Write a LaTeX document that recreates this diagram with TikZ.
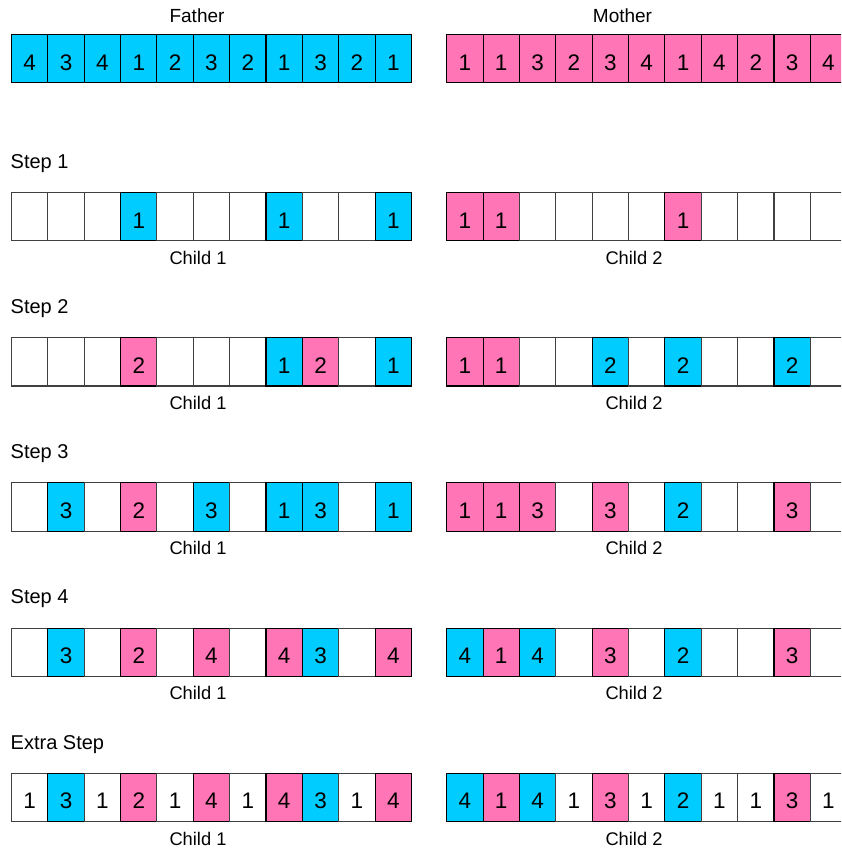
\documentclass[tikz,border=0pt]{standalone}
\usepackage{fontspec}
\setmainfont{Liberation Sans}

\definecolor{fathercol}{RGB}{0,204,255}
\definecolor{mothercol}{RGB}{255,117,181}

\tikzset{
  cell/.style={rectangle,draw=black,line width=1.1pt,minimum width=36.36pt,minimum height=48.3pt,
    inner sep=0pt,outer sep=0pt,font=\fontsize{22.5}{22.5}\selectfont,text height=23pt,text depth=0pt},
  fcell/.style={cell,fill=fathercol},
  mcell/.style={cell,fill=mothercol},
  ecell/.style={cell,draw=black!75,fill=white},
  wcell/.style={cell,draw=black!75,fill=white},
  lbl/.style={font=\fontsize{18.3}{18.3}\selectfont,anchor=base,inner sep=0pt},
  parentlbl/.style={lbl,font=\fontsize{19}{19}\selectfont},
  steplbl/.style={lbl,font=\fontsize{20}{20}\selectfont,anchor=base west},
}

% one row of 11 genes: name, left x, top y, list of style/value
\newcommand\cellrow[4]{%
  \foreach \st/\val [count=\i] in {#4}
    \node[\st,anchor=north west] (#1-\i) at ({#2+(\i-1)*36.36},#3) {\val};
}

\begin{document}
\begin{tikzpicture}[x=1pt,y=-1pt]
\useasboundingbox (0,0) rectangle (841,850);
\clip (0,0) rectangle (841,850);
% ---------- parents ----------
\node[parentlbl] (father) at (197,22.7) {Father};
\node[parentlbl] (mother) at (622.5,22.7) {Mother};
\cellrow{f}{11.5}{34.5}{fcell/4,fcell/3,fcell/4,fcell/1,fcell/2,fcell/3,fcell/2,fcell/1,fcell/3,fcell/2,fcell/1}
\cellrow{m}{446.7}{34.5}{mcell/1,mcell/1,mcell/3,mcell/2,mcell/3,mcell/4,mcell/1,mcell/4,mcell/2,mcell/3,mcell/4}
% ---------- step and child labels ----------
\foreach \t [count=\k from 0] in {Step 1,Step 2,Step 3,Step 4,Extra Step} {
  \node[steplbl] (step\k) at (10.5,{168.3+145.2*\k}) {\t};
  \node[lbl] (childa\k) at (198,{264.3+145.2*\k}) {Child 1};
  \node[lbl] (childb\k) at (634,{264.3+145.2*\k}) {Child 2};
}
% ---------- step 1 ----------
\cellrow{s1a}{11.5}{192.5}{ecell/{},ecell/{},ecell/{},fcell/1,ecell/{},ecell/{},ecell/{},fcell/1,ecell/{},ecell/{},fcell/1}
\cellrow{s1b}{446.7}{192.5}{mcell/1,mcell/1,ecell/{},ecell/{},ecell/{},ecell/{},mcell/1,ecell/{},ecell/{},ecell/{},ecell/{}}
% ---------- step 2 ----------
\cellrow{s2a}{11.5}{337.7}{ecell/{},ecell/{},ecell/{},mcell/2,ecell/{},ecell/{},ecell/{},fcell/1,mcell/2,ecell/{},fcell/1}
\cellrow{s2b}{446.7}{337.7}{mcell/1,mcell/1,ecell/{},ecell/{},fcell/2,ecell/{},fcell/2,ecell/{},ecell/{},fcell/2,ecell/{}}
% ---------- step 3 ----------
\cellrow{s3a}{11.5}{482.9}{ecell/{},fcell/3,ecell/{},mcell/2,ecell/{},fcell/3,ecell/{},fcell/1,fcell/3,ecell/{},fcell/1}
\cellrow{s3b}{446.7}{482.9}{mcell/1,mcell/1,mcell/3,ecell/{},mcell/3,ecell/{},fcell/2,ecell/{},ecell/{},mcell/3,ecell/{}}
% ---------- step 4 ----------
\cellrow{s4a}{11.5}{628.1}{ecell/{},fcell/3,ecell/{},mcell/2,ecell/{},mcell/4,ecell/{},mcell/4,fcell/3,ecell/{},mcell/4}
\cellrow{s4b}{446.7}{628.1}{fcell/4,mcell/1,fcell/4,ecell/{},mcell/3,ecell/{},fcell/2,ecell/{},ecell/{},mcell/3,ecell/{}}
% ---------- extra step ----------
\cellrow{xa}{11.5}{773.3}{wcell/1,fcell/3,wcell/1,mcell/2,wcell/1,mcell/4,wcell/1,mcell/4,fcell/3,wcell/1,mcell/4}
\cellrow{xb}{446.7}{773.3}{fcell/4,mcell/1,fcell/4,wcell/1,mcell/3,wcell/1,fcell/2,wcell/1,wcell/1,mcell/3,wcell/1}
\end{tikzpicture}
\end{document}
